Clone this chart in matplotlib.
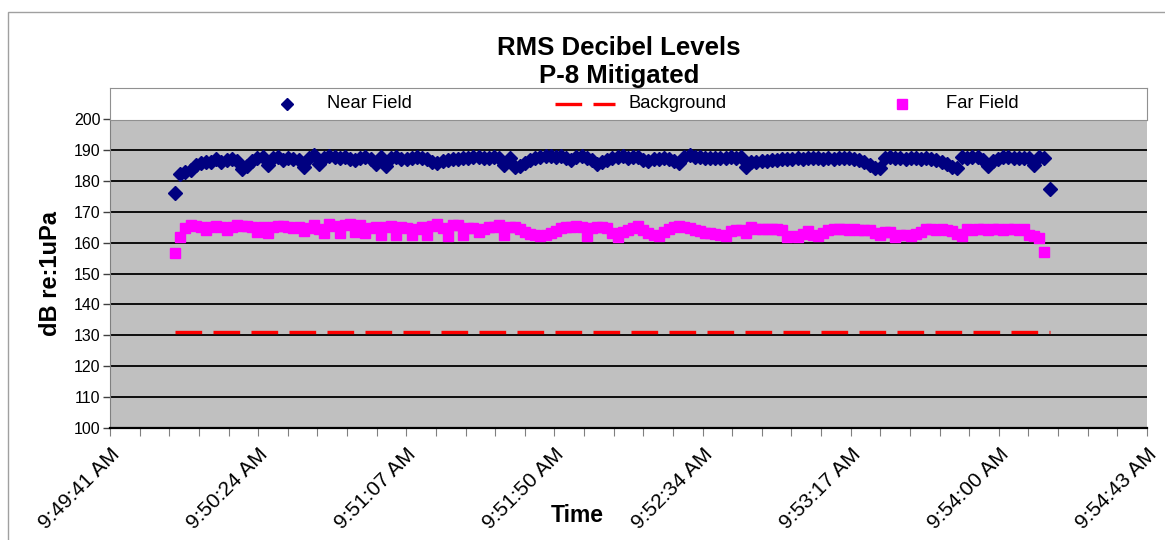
import numpy as np
import pandas as pd
import matplotlib
matplotlib.use("Agg")
import matplotlib.pyplot as plt
import matplotlib.dates as mdates
from matplotlib.patches import Rectangle

plt.rcParams['font.family'] = ['Liberation Sans', 'DejaVu Sans']

# sample times (one reading every 1.5 s from 9:50:00)
times = pd.date_range("2000-01-01 09:50:00", periods=171, freq="1500ms")

near_field = [
    176.2, 182.3, 183.0, 183.6, 185.2, 185.8, 186.2, 186.0, 187.0, 186.1,
    186.6, 187.0, 186.5, 183.8, 184.8, 186.5, 187.3, 187.8, 185.2, 187.3,
    187.8, 186.8, 187.3, 187.2, 186.8, 184.4, 187.5, 188.2, 185.4, 187.5,
    188.0, 187.6, 187.3, 187.8, 187.2, 186.8, 187.4, 187.8, 187.2, 185.4,
    187.6, 184.9, 187.4, 187.8, 187.2, 186.9, 187.5, 187.6, 187.3, 187.0,
    186.0, 185.7, 186.4, 186.8, 187.0, 187.2, 187.3, 187.5, 187.6, 187.8,
    187.5, 187.3, 187.8, 187.4, 185.0, 187.4, 184.4, 184.8, 185.6, 186.6,
    187.3, 187.7, 188.0, 188.0, 187.8, 187.9, 187.5, 186.6, 187.6, 187.9,
    187.4, 186.6, 185.3, 186.0, 186.8, 187.4, 187.8, 188.0, 187.5, 187.8,
    187.6, 186.8, 186.4, 186.9, 187.2, 187.4, 187.0, 186.5, 185.6, 187.6,
    188.3, 187.8, 187.6, 187.4, 187.5, 187.5, 187.4, 187.5, 187.6, 187.5,
    187.7, 184.6, 186.1, 186.0, 186.3, 186.5, 186.6, 186.8, 186.9, 187.0,
    187.2, 187.3, 187.2, 187.3, 187.3, 187.3, 187.2, 187.3, 187.2, 187.3,
    187.3, 187.3, 187.2, 186.8, 186.0, 185.0, 184.1, 184.3, 187.4, 187.6,
    187.3, 187.3, 187.2, 187.3, 187.3, 187.2, 187.3, 187.0, 186.8, 186.0,
    185.4, 184.6, 184.1, 187.6, 187.5, 187.8, 187.6, 186.8, 184.7, 186.3,
    187.0, 187.6, 187.8, 187.5, 187.4, 187.5, 187.5, 185.2, 187.6, 187.4,
    177.4,
]

far_field = [
    156.5, 161.9, 164.6, 165.6, 165.4, 164.9, 164.0, 164.9, 165.4, 164.9,
    164.2, 165.0, 165.6, 165.4, 165.5, 165.0, 163.3, 165.2, 163.1, 165.2,
    165.5, 165.3, 165.0, 164.8, 165.0, 163.6, 164.6, 165.7, 164.5, 163.1,
    166.0, 165.4, 163.1, 165.8, 165.9, 163.4, 165.6, 163.1, 164.8, 165.2,
    162.6, 164.9, 165.3, 162.6, 165.2, 164.8, 162.4, 164.5, 164.9, 162.5,
    165.4, 165.9, 164.8, 162.2, 165.6, 165.8, 162.3, 164.6, 164.8, 163.4,
    164.4, 164.9, 165.1, 165.7, 162.4, 165.2, 164.9, 164.4, 163.4, 162.8,
    162.4, 162.2, 162.5, 163.0, 163.8, 164.6, 165.2, 165.1, 165.3, 164.9,
    162.2, 164.8, 165.0, 165.2, 164.6, 163.2, 161.8, 163.5, 164.2, 164.7,
    165.4, 164.0, 163.1, 162.6, 162.2, 163.4, 164.4, 165.1, 165.5, 164.9,
    164.6, 164.0, 163.6, 163.2, 163.1, 162.7, 162.4, 162.2, 163.6, 164.2,
    164.1, 163.1, 164.9, 164.5, 164.4, 164.5, 164.3, 164.4, 164.2, 161.8,
    162.0, 161.8, 162.9, 163.7, 162.6, 162.2, 163.1, 164.2, 164.4, 164.4,
    164.3, 164.2, 164.4, 164.2, 164.1, 164.2, 163.2, 162.6, 163.3, 163.5,
    161.8, 162.4, 162.3, 162.2, 162.8, 163.4, 164.4, 164.3, 164.2, 164.4,
    164.0, 163.8, 162.8, 162.2, 164.4, 164.2, 164.3, 164.4, 164.1, 164.3,
    164.4, 164.2, 164.4, 164.3, 164.2, 164.3, 162.4, 162.0, 161.5, 157.0,
    np.nan,
]

background = [131.2] * 171

tick_labels = ["9:49:41 AM", "9:50:24 AM", "9:51:07 AM", "9:51:50 AM",
               "9:52:34 AM", "9:53:17 AM", "9:54:00 AM", "9:54:43 AM"]

x = mdates.date2num(times)
t0 = mdates.date2num(pd.Timestamp("2000-01-01 09:49:41"))
step = 0.0005  # days between labels
major = t0 + step * np.arange(len(tick_labels))
minor = t0 + step / 5 * np.arange(5 * (len(tick_labels) - 1) + 1)

W, H = 1165, 540
fig = plt.figure(figsize=(W / 100, H / 100), dpi=100)
fig.patch.set_facecolor("white")
fig.add_artist(Rectangle((8 / W, -0.1), 1.2, 1 - 12 / H + 0.1, transform=fig.transFigure,
                         fill=False, edgecolor="#a0a0a0", lw=1))

ax = fig.add_axes([110 / W, 1 - 428 / H, 1037 / W, 309 / H])
ax.set_facecolor("#c0c0c0")
ax.plot(x, near_field, ls="none", marker="D", ms=6.8, color="#000080", zorder=3)
ax.plot(x, background, color="#ff0000", lw=2.4, dashes=(8, 3.4), zorder=3)
ax.plot(x, far_field, ls="none", marker="s", ms=7.5, color="#ff00ff", zorder=3)

ax.set_ylim(100, 200)
ax.set_yticks(np.arange(100, 201, 10))
ax.set_xlim(major[0], major[-1])
ax.set_xticks(major)
ax.set_xticks(minor, minor=True)
ax.set_xticklabels(tick_labels, rotation=45, ha="right", va="top",
                   rotation_mode="anchor", fontsize=15)
ax.tick_params(axis="y", labelsize=11.5, length=5, direction="out", width=1, color="#404040", pad=2)
ax.tick_params(axis="x", which="both", length=6, direction="out", width=0.8, color="#808080", pad=6)
ax.grid(axis="y", color="black", lw=1.3)
ax.set_axisbelow(True)
for s in ["top", "right"]:
    ax.spines[s].set_visible(False)
ax.spines["left"].set_color("#808080")
ax.spines["bottom"].set_color("black")
ax.spines["bottom"].set_linewidth(1.6)

ax.set_ylabel("dB re:1uPa", fontsize=17, fontweight="bold", labelpad=8)
fig.text(577 / W, 1 - 516 / H, "Time", fontsize=16.5, fontweight="bold", ha="center", va="center")
fig.text(619 / W, 1 - 48 / H, "RMS Decibel Levels", fontsize=18.5, fontweight="bold", ha="center", va="center")
fig.text(619 / W, 1 - 76 / H, "P-8 Mitigated", fontsize=18.5, fontweight="bold", ha="center", va="center")

# legend strip above the plot
lg = fig.add_axes([110 / W, 1 - 120 / H, 1037 / W, 32 / H])
lg.set_xlim(110, 1147)
lg.set_ylim(0, 1)
lg.set_xticks([])
lg.set_yticks([])
for s in lg.spines.values():
    s.set_color("#909090")
lg.plot([287], [0.5], ls="none", marker="D", ms=6.5, color="#000080")
lg.plot([555, 615], [0.5, 0.5], color="#ff0000", lw=2.4, dashes=(8, 3.4))
lg.plot([902], [0.5], ls="none", marker="s", ms=7, color="#ff00ff")
lg.text(327, 0.5, "Near Field", fontsize=13.2, va="center")
lg.text(628, 0.5, "Background", fontsize=13.2, va="center")
lg.text(946, 0.5, "Far Field", fontsize=13.2, va="center")

fig.savefig("out.png", dpi=100)
